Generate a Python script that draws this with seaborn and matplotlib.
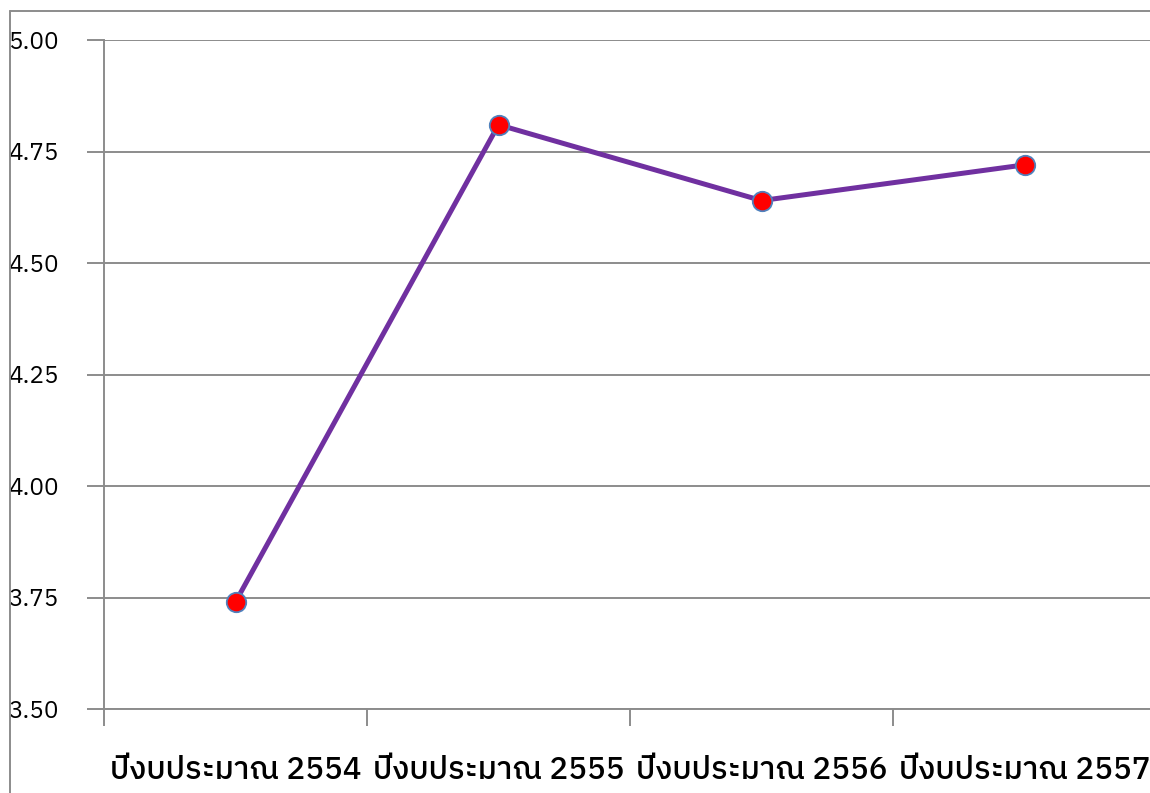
import matplotlib
matplotlib.use("Agg")
import matplotlib.pyplot as plt
from matplotlib import font_manager
from matplotlib.ft2font import FT2Font
from matplotlib.lines import Line2D
import seaborn as sns
import pandas as pd

# Budget-year scores
years = ["ปีงบประมาณ 2554", "ปีงบประมาณ 2555", "ปีงบประมาณ 2556", "ปีงบประมาณ 2557"]
scores = [3.74, 4.81, 4.64, 4.72]
y_ticks = [3.50, 3.75, 4.00, 4.25, 4.50, 4.75, 5.00]


def thai_fonts():
    """Names of installed families that can draw Thai script, sans first."""
    names = set()
    for entry in font_manager.fontManager.ttflist:
        try:
            cmap = FT2Font(entry.fname).get_charmap()
        except Exception:
            continue
        if ord("ป") in cmap and ord("ณ") in cmap:
            names.add(entry.name)
    return sorted(names, key=lambda n: ("Serif" in n, "Sans" not in n, n))


sns.set_theme(style="white")
thai = thai_fonts()
families = thai[:1] + ["DejaVu Sans"]
plt.rcParams["font.family"] = families

df = pd.DataFrame({"year": years, "score": scores})

fig = plt.figure(figsize=(11.5, 7.93), dpi=100)
ax = fig.add_axes([104 / 1150, 84 / 793, 1052 / 1150, 669 / 793])

sns.lineplot(
    data=df, x="year", y="score", ax=ax, sort=False,
    color="#7030A0", linewidth=3.6,
    marker="o", markersize=14, markerfacecolor="#FF0000",
    markeredgecolor="#4F81BD", markeredgewidth=1.3,
)

ax.set_xlim(-0.5, len(years) - 0.5)
ax.set_ylim(y_ticks[0], y_ticks[-1])
ax.set_yticks(y_ticks)
ax.set_yticklabels([f"{v:.2f}" for v in y_ticks], fontsize=17.5,
                   family=families, ha="left", color="black")
ax.grid(axis="y", color="#8C8C8C", linewidth=1.4)
ax.set_axisbelow(True)

# Category labels at centers, tick marks between categories
ax.set_xticks(range(len(years)))
ax.set_xticklabels(years, fontsize=22.5, fontweight=500, family=families,
                   color="black")
ax.set_xticks([i - 0.5 for i in range(len(years) + 1)], minor=True)
ax.tick_params(axis="x", which="major", length=0, pad=33)
ax.tick_params(axis="x", which="minor", length=12, width=1.4, color="#8C8C8C",
               direction="out", bottom=True)
ax.tick_params(axis="y", length=12, width=1.4, color="#8C8C8C",
               direction="out", left=True, pad=57)

for side in ("top", "right"):
    ax.spines[side].set_visible(False)
for side in ("left", "bottom"):
    ax.spines[side].set_color("#8C8C8C")
    ax.spines[side].set_linewidth(1.4)

ax.set_xlabel("")
ax.set_ylabel("")

# Outer chart frame (top and left edges)
fx = 9.5 / 1150
fy = 1 - 10.5 / 793
fig.add_artist(Line2D([fx, 1.0], [fy, fy], transform=fig.transFigure,
                      color="#8C8C8C", linewidth=1.4))
fig.add_artist(Line2D([fx, fx], [0.0, fy], transform=fig.transFigure,
                      color="#8C8C8C", linewidth=1.4))

fig.savefig("out.png", dpi=100)
